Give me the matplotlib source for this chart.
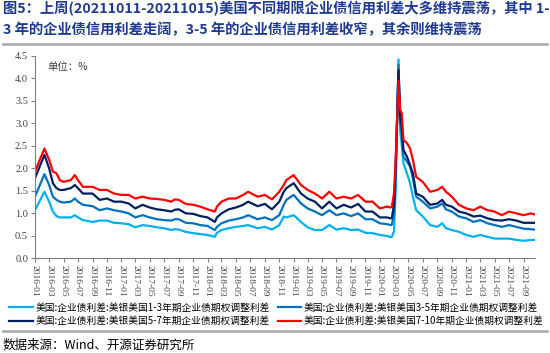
import numpy as np
import pandas as pd
import matplotlib as mpl
mpl.use('Agg')
import matplotlib.pyplot as plt
import matplotlib.dates as mdates
from matplotlib.lines import Line2D

plt.rcParams['font.family'] = ['Noto Sans CJK SC', 'DejaVu Sans']

# values (%)
dates = [
    "2016-01-01", "2016-02-10", "2016-03-01", "2016-03-17", "2016-04-01", "2016-04-15",
    "2016-05-01", "2016-06-01", "2016-06-18", "2016-07-01", "2016-07-22", "2016-09-01",
    "2016-10-01", "2016-11-01", "2016-12-01", "2017-01-01", "2017-02-01", "2017-03-01",
    "2017-04-01", "2017-05-01", "2017-06-01",
    "2017-07-01", "2017-08-01", "2017-08-15", "2017-09-01", "2017-10-01", "2017-11-01",
    "2017-12-01", "2018-01-01", "2018-02-01", "2018-02-10", "2018-03-01", "2018-04-01",
    "2018-05-01", "2018-06-01", "2018-06-22", "2018-08-01", "2018-09-01", "2018-10-01",
    "2018-11-01", "2018-11-20",
    "2018-12-01", "2019-01-01", "2019-02-01", "2019-03-01", "2019-04-01", "2019-05-01",
    "2019-06-01", "2019-07-01", "2019-08-01", "2019-09-01", "2019-10-01", "2019-11-01",
    "2019-12-01", "2020-01-01", "2020-02-01", "2020-02-15",
    "2020-02-21", "2020-03-01", "2020-03-08", "2020-03-20", "2020-03-27", "2020-04-03",
    "2020-04-10", "2020-04-25", "2020-05-08", "2020-05-20", "2020-06-03", "2020-07-01",
    "2020-08-01", "2020-09-01", "2020-09-21", "2020-10-07", "2020-11-01", "2020-12-01",
    "2021-01-01", "2021-02-01", "2021-03-01", "2021-04-01", "2021-05-01", "2021-06-01",
    "2021-07-01", "2021-08-01", "2021-09-01", "2021-10-01", "2021-10-15",
]

spread_1_3 = [
    1.07, 1.48, 1.26, 1.04, 0.94, 0.91,
    0.91, 0.91, 0.96, 0.91, 0.85, 0.81,
    0.84, 0.84, 0.79, 0.78, 0.76, 0.69,
    0.74, 0.72, 0.69,
    0.67, 0.63, 0.65, 0.64, 0.59, 0.56,
    0.54, 0.52, 0.48, 0.57, 0.63, 0.67,
    0.70, 0.72, 0.74, 0.67, 0.70, 0.64,
    0.74, 0.93,
    0.91, 0.96, 0.81, 0.69, 0.63, 0.63,
    0.74, 0.64, 0.67, 0.63, 0.64, 0.57,
    0.56, 0.52, 0.50, 0.47,
    0.48, 0.60, 1.50, 4.42, 2.85, 2.50,
    2.11, 1.89, 1.67, 1.37, 1.07, 0.93,
    0.74, 0.70, 0.78, 0.67, 0.63, 0.59,
    0.52, 0.48, 0.52, 0.48, 0.44, 0.44,
    0.44, 0.41, 0.39, 0.41, 0.41,
]

spread_3_5 = [
    1.37, 1.87, 1.63, 1.37, 1.30, 1.26,
    1.24, 1.26, 1.33, 1.26, 1.19, 1.16,
    1.07, 1.11, 1.07, 1.04, 1.00, 0.91,
    0.96, 0.91, 0.87,
    0.85, 0.84, 0.87, 0.87, 0.79, 0.78,
    0.74, 0.72, 0.63, 0.70, 0.78, 0.84,
    0.87, 0.91, 0.96, 0.87, 0.91, 0.85,
    0.96, 1.19,
    1.30, 1.41, 1.22, 1.11, 1.04, 0.96,
    1.07, 0.96, 1.00, 0.94, 1.00, 0.87,
    0.87, 0.78, 0.76, 0.74,
    0.75, 1.00, 1.90, 4.30, 3.04, 2.75,
    2.26, 2.15, 2.04, 1.78, 1.37, 1.26,
    1.11, 1.15, 1.22, 1.09, 1.04, 0.93,
    0.89, 0.81, 0.85, 0.78, 0.74, 0.70,
    0.74, 0.70, 0.66, 0.65, 0.64,
]

spread_5_7 = [
    1.78, 2.30, 2.00, 1.67, 1.56, 1.52,
    1.52, 1.56, 1.63, 1.56, 1.44, 1.44,
    1.30, 1.33, 1.26, 1.26, 1.22, 1.11,
    1.19, 1.13, 1.09,
    1.07, 1.04, 1.08, 1.09, 1.00, 0.99,
    0.94, 0.91, 0.81, 0.91, 1.00, 1.09,
    1.13, 1.19, 1.26, 1.16, 1.21, 1.09,
    1.26, 1.48,
    1.56, 1.67, 1.44, 1.33, 1.26, 1.11,
    1.26, 1.11, 1.19, 1.13, 1.21, 1.04,
    1.04, 0.91, 0.91, 0.89,
    0.90, 1.20, 2.00, 4.18, 3.19, 2.90,
    2.41, 2.26, 2.07, 1.89, 1.44, 1.37,
    1.19, 1.22, 1.30, 1.19, 1.15, 1.04,
    1.00, 0.93, 0.95, 0.89, 0.85, 0.84,
    0.87, 0.84, 0.79, 0.79, 0.79,
]

spread_7_10 = [
    1.93, 2.44, 2.19, 1.93, 1.89, 1.74,
    1.70, 1.74, 1.85, 1.74, 1.59, 1.59,
    1.52, 1.52, 1.44, 1.41, 1.41, 1.33,
    1.37, 1.33, 1.32,
    1.30, 1.26, 1.31, 1.30, 1.21, 1.19,
    1.15, 1.09, 1.04, 1.15, 1.26, 1.33,
    1.33, 1.41, 1.48, 1.37, 1.41, 1.31,
    1.48, 1.63,
    1.74, 1.85, 1.63, 1.52, 1.44, 1.33,
    1.48, 1.33, 1.37, 1.33, 1.41, 1.26,
    1.26, 1.11, 1.15, 1.13,
    1.15, 1.45, 2.20, 3.95, 3.30, 3.22,
    2.63, 2.56, 2.44, 2.19, 1.81, 1.70,
    1.48, 1.52, 1.59, 1.48, 1.37, 1.19,
    1.11, 1.07, 1.15, 1.07, 1.04, 0.96,
    1.04, 1.00, 0.96, 1.00, 0.98,
]

labels = [
    "美国:企业债利差:美银美国1-3年期企业债期权调整利差",
    "美国:企业债利差:美银美国3-5年期企业债期权调整利差",
    "美国:企业债利差:美银美国5-7年期企业债期权调整利差",
    "美国:企业债利差:美银美国7-10年期企业债期权调整利差",
]
colors = ["#00B0F0", "#0070C0", "#002060", "#FF0000"]

title = ("图5：上周(20211011-20211015)美国不同期限企业债信用利差大多维持震荡，其中 1-\n"
         "3 年的企业债信用利差走阔，3-5 年的企业债信用利差收窄，其余则维持震荡")
source = "数据来源：Wind、开源证券研究所"

x = pd.to_datetime(dates)

fig = plt.figure(figsize=(5.5, 3.53), dpi=100)
ax = fig.add_axes([0.0636, 0.268, 0.909, 0.574])

lines = []
for vals, c, lab in zip([spread_1_3, spread_3_5, spread_5_7, spread_7_10], colors, labels):
    l, = ax.plot(x, vals, color=c, lw=1.6, label=lab)
    lines.append(l)

ax.set_ylim(0, 4.5)
ax.set_yticks(np.arange(0, 4.51, 0.5))
ax.yaxis.set_major_formatter(mpl.ticker.FormatStrFormatter('%.1f'))
ax.set_xlim(pd.Timestamp("2016-01-01"), pd.Timestamp("2021-10-19"))
ax.xaxis.set_major_locator(mdates.MonthLocator(bymonth=[1, 3, 5, 7, 9, 11]))
ax.xaxis.set_major_formatter(mdates.DateFormatter('%Y-%m'))

for s in ['top', 'right']:
    ax.spines[s].set_visible(False)
for s in ['left', 'bottom']:
    ax.spines[s].set_color('#7f7f7f')
    ax.spines[s].set_linewidth(0.8)
ax.tick_params(axis='both', colors='#7f7f7f', length=3, width=0.8, pad=2)
for t in ax.get_yticklabels():
    t.set_fontfamily('Liberation Serif')
    t.set_fontsize(7.5)
    t.set_color('#404040')
for t in ax.get_xticklabels():
    t.set_fontfamily('Liberation Serif')
    t.set_fontsize(6.8)
    t.set_color('#404040')
    t.set_rotation(-90)
    t.set_va('top')
    t.set_ha('center')

ax.text(0.025, 0.97, "单位：%", transform=ax.transAxes, fontsize=7.5,
        family=['Noto Sans CJK SC', 'Liberation Serif'], color='#404040', va='top')

# legend: row order 1-3, 3-5 / 5-7, 7-10
fig.legend([lines[0], lines[2], lines[1], lines[3]],
           [labels[0], labels[2], labels[1], labels[3]],
           ncol=2, loc='upper left', bbox_to_anchor=(0.008, 1 - 298 / 353),
           bbox_transform=fig.transFigure, frameon=False, fontsize=7,
           handlelength=2.4, handletextpad=0.3, columnspacing=0.8,
           borderpad=0, labelspacing=0.35)

fig.text(0.005, 0.998, title, fontsize=10.3, fontweight='bold', color='#1F3A93',
         va='top', ha='left', linespacing=1.6)
fig.add_artist(Line2D([0.005, 0.995], [1 - 44 / 353] * 2, color='#A6A6A6', lw=1.8,
                      transform=fig.transFigure))
fig.add_artist(Line2D([0.005, 0.995], [1 - 331 / 353] * 2, color='#A6A6A6', lw=1.8,
                      transform=fig.transFigure))
fig.text(0.005, 1 - 345 / 353, source, fontsize=9, color='black', va='center', ha='left')

fig.savefig("out.png", dpi=100)
